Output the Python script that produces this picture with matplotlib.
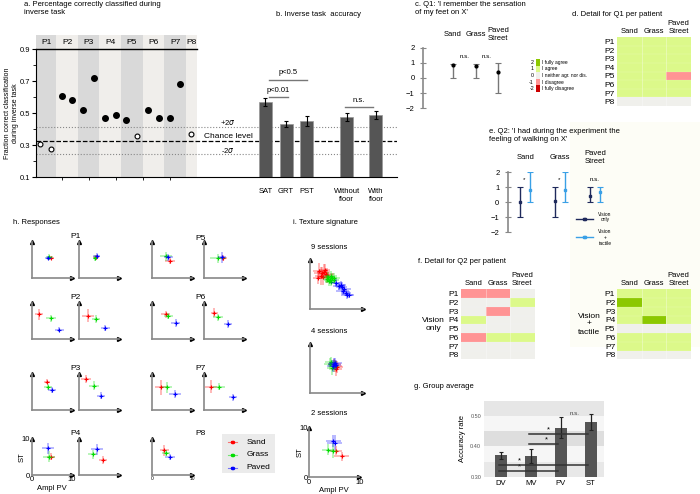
import numpy as np
import matplotlib
matplotlib.use('Agg')
import matplotlib.pyplot as plt
from matplotlib.colors import ListedColormap, BoundaryNorm
from matplotlib.patches import Rectangle
from matplotlib.lines import Line2D

plt.rcParams['font.family'] = ['Liberation Sans', 'DejaVu Sans']

# ---------------- data ----------------
# a. fraction correct per run (two runs per patient, P8 only one)
patients = ['P1', 'P2', 'P3', 'P4', 'P5', 'P6', 'P7', 'P8']
runs_per_patient = [2, 2, 2, 2, 2, 2, 2, 1]
inverse_scores = [0.31, 0.275, 0.61, 0.58, 0.52, 0.72, 0.47, 0.49,
                  0.46, 0.36, 0.52, 0.47, 0.47, 0.68, 0.37]
above_chance = [False, False, True, True, True, True, True, True,
                True, False, True, True, True, True, False]
chance_level = 0.33
upper_2sigma = 0.413
lower_2sigma = 0.244

# b. inverse task accuracy
accuracy_labels = ['SAT', 'GRT', 'PST', 'Without\nfloor', 'With\nfloor']
accuracy_values = [0.57, 0.433, 0.452, 0.477, 0.49]
accuracy_errors = [0.025, 0.02, 0.033, 0.026, 0.024]

# c. / e. questionnaires
surfaces = ['Sand', 'Grass', 'Paved\nStreet']
q1_mean = [0.85, 0.8, 0.4]
q1_low = [0, 0, -1]
q1_high = [0.95, 0.95, 1]
q2_vision_mean = [0.0, 0.1, 0.4]
q2_vision_low = [-1, -1, 0]
q2_vision_high = [1, 1, 1]
q2_tactile_mean = [0.85, 0.85, 0.7]
q2_tactile_low = [0, 0, 0]
q2_tactile_high = [2, 2, 1]
q2_signif = ['*', '*', 'n.s.']

# d. / f. ratings per patient (rows P1..P8, cols Sand, Grass, Paved)
q1_ratings = np.array([[1, 1, 1], [1, 1, 1], [1, 1, 1], [1, 1, 1],
                       [1, 1, -1], [1, 1, 1], [1, 1, 1], [0, 0, 0]])
q2_vision_ratings = np.array([[-1, -1, 0], [0, 0, 1], [0, -1, 0], [1, 0, 0],
                              [0, 0, 0], [-1, 1, 1], [0, 0, 0], [0, 0, 0]])
q2_tactile_ratings = np.array([[1, 1, 1], [2, 1, 1], [1, 1, 1], [1, 2, 1],
                               [0, 0, 0], [1, 1, 1], [1, 1, 1], [0, 0, 0]])
rating_levels = [2, 1, 0, -1, -2]
rating_labels = ['I fully agree', 'I agree', 'I neither agr. nor dis.',
                 'I disagree', 'I fully disagree']

# g. group average
group_labels = ['DV', 'MV', 'PV', 'ST']
group_acc = [0.371, 0.369, 0.462, 0.48]
group_err = [0.012, 0.022, 0.035, 0.027]
group_pairs = [(0, 2), (0, 3), (1, 2), (1, 3)]
group_pair_levels = [0.32, 0.34, 0.408, 0.44]

# h. responses: x, y, xerr, yerr  (P1a,P1b,P2a,P2b,P3a,P3b,P4a,P4b,P5a,P5b,P6a,P6b,P7a,P7b,P8)
resp_panels = ['P1', 'P1', 'P2', 'P2', 'P3', 'P3', 'P4', 'P4',
               'P5', 'P5', 'P6', 'P6', 'P7', 'P7', 'P8']
sand_resp = np.array([
    [4.75, 5.5, 0.8, 0.5], [4.2, 5.7, 0.6, 0.6], [1.9, 6.8, 1.0, 1.5], [2.3, 6.4, 1.5, 1.8],
    [3.75, 7.8, 0.8, 0.8], [1.75, 8.5, 1.2, 1.2], [4.85, 5.0, 1.0, 1.0], [5.9, 4.1, 1.0, 1.2],
    [4.4, 4.8, 1.2, 0.8], [4.7, 5.5, 1.0, 0.8], [3.3, 6.8, 1.2, 1.0], [2.6, 7.2, 0.8, 1.2],
    [2.2, 6.2, 1.5, 2.0], [1.75, 6.4, 1.5, 1.8], [3.0, 6.8, 1.2, 1.5]])
grass_resp = np.array([
    [4.4, 5.9, 0.8, 0.8], [4.1, 5.5, 0.6, 0.8], [4.8, 5.7, 1.2, 1.0], [4.25, 5.5, 1.0, 1.2],
    [4.0, 6.4, 1.0, 0.8], [3.75, 6.7, 1.2, 1.2], [4.2, 5.0, 1.5, 1.5], [3.4, 5.7, 1.2, 1.2],
    [3.35, 6.0, 1.5, 1.2], [3.6, 5.5, 2.0, 1.2], [4.0, 6.2, 1.2, 0.8], [3.5, 5.9, 1.2, 1.0],
    [3.6, 6.2, 1.2, 1.5], [3.75, 6.4, 1.5, 1.0], [3.4, 6.0, 1.0, 0.8]])
paved_resp = np.array([
    [4.15, 5.5, 0.8, 0.6], [4.4, 6.1, 0.8, 0.8], [6.9, 2.6, 1.2, 0.6], [6.6, 2.9, 1.2, 0.8],
    [5.0, 5.5, 1.0, 0.8], [5.6, 3.9, 1.0, 1.0], [4.0, 7.3, 1.5, 1.5], [4.6, 7.1, 1.5, 1.5],
    [4.0, 5.7, 1.2, 1.0], [4.4, 5.8, 1.0, 1.5], [5.8, 4.4, 1.2, 1.0], [5.9, 4.1, 1.0, 1.0],
    [5.7, 4.4, 1.5, 1.2], [7.3, 3.5, 1.0, 1.0], [4.4, 5.0, 1.2, 0.8]])

# i. texture signature per session: x, y, xerr, yerr
sand_9 = np.array([[1.8, 7.8, 1.2, 1.5], [2.2, 7.3, 1.5, 1.2], [2.5, 6.5, 1.2, 1.5],
                   [2.0, 6.8, 1.0, 1.8], [3.0, 7.2, 1.5, 1.0], [2.6, 7.6, 1.2, 1.5],
                   [1.6, 6.4, 1.0, 1.2], [3.2, 6.9, 1.2, 1.5], [2.8, 7.9, 1.0, 1.2]])
grass_9 = np.array([[3.5, 6.6, 1.0, 1.0], [3.8, 6.0, 1.2, 0.8], [4.2, 6.3, 1.0, 1.0],
                    [3.6, 5.8, 0.8, 1.0], [4.5, 5.9, 1.0, 0.8], [4.0, 6.8, 1.2, 1.0],
                    [3.3, 6.1, 0.8, 0.8], [4.6, 6.4, 1.0, 1.0], [3.9, 5.5, 1.0, 0.8]])
paved_9 = np.array([[5.0, 5.4, 1.0, 0.8], [5.5, 4.8, 1.2, 0.8], [6.0, 4.5, 1.0, 1.0],
                    [6.2, 3.8, 1.2, 0.8], [6.8, 3.4, 1.0, 0.8], [7.0, 2.9, 1.2, 0.8],
                    [5.8, 5.0, 1.0, 0.8], [6.5, 4.2, 1.2, 1.0], [7.4, 3.0, 1.0, 0.8]])
sand_4 = np.array([[4.8, 5.6, 1.2, 1.2], [5.0, 5.0, 1.0, 1.5], [4.6, 6.0, 1.2, 1.0], [5.2, 5.4, 1.0, 1.2]])
grass_4 = np.array([[3.8, 5.9, 1.2, 1.2], [4.2, 5.2, 1.0, 1.5], [4.0, 6.4, 1.2, 1.0], [4.5, 5.6, 1.0, 1.2]])
paved_4 = np.array([[4.5, 5.9, 1.0, 1.2], [4.8, 6.2, 1.2, 1.0], [4.3, 5.5, 1.0, 1.2], [4.9, 5.8, 1.0, 1.0]])
sand_2 = np.array([[5.3, 5.4, 1.2, 1.0], [6.5, 4.2, 1.5, 1.0]])
grass_2 = np.array([[3.8, 5.6, 1.2, 1.2], [4.7, 5.4, 1.0, 1.5]])
paved_2 = np.array([[4.8, 7.4, 1.5, 1.2], [5.1, 7.0, 1.5, 1.5]])

# ---------------- style ----------------
W, H = 700, 494
rating_cmap = ListedColormap(['#cc0000', '#ff9494', '#f0f0ec', '#dcf98a', '#8cc800'])
rating_norm = BoundaryNorm([-2.5, -1.5, -0.5, 0.5, 1.5, 2.5], 5)
tex_colors = ['#ff0000', '#00dd00', '#0000ff']
fs = 5.5

fig = plt.figure(figsize=(7, 4.94), dpi=100)


def add_ax(x0, y0, x1, y1):
    return fig.add_axes([x0 / W, 1 - y1 / H, (x1 - x0) / W, (y1 - y0) / H])


def ftext(x, y, s, **kw):
    kw.setdefault('fontsize', fs)
    fig.text(x / W, 1 - y / H, s, **kw)


def fline(x0, x1, y, **kw):
    fig.add_artist(Line2D([x0 / W, x1 / W], [1 - y / H, 1 - y / H],
                          transform=fig.transFigure, **kw))


# faint cream background at the right
fig.patches.append(Rectangle((570 / W, 1 - 347 / H), 130 / W, 225 / H,
                             transform=fig.transFigure, facecolor='#fdfdf6',
                             edgecolor='none', zorder=-5))

# ---------------- a + b ----------------
ax = add_ax(36, 49.3, 397, 177.3)
xmin, xmax = -0.37, 33.05
ax.set_xlim(xmin, xmax)
ax.set_ylim(0.1, 0.9)
run_x = np.arange(len(inverse_scores))
start = 0
for k, (p, n) in enumerate(zip(patients, runs_per_patient)):
    left = max(start - 0.5, xmin)
    right = start + n - 0.5
    col = '#d9d9d9' if k % 2 == 0 else '#f0eeeb'
    ax.axvspan(left, right, color=col, zorder=0, lw=0)
    ax.add_patch(Rectangle((left, 0.9), right - left, 0.0875, facecolor=col,
                           edgecolor='none', clip_on=False))
    ax.text((left + right) / 2, 0.944, p, ha='center', va='center', fontsize=fs + 0.5)
    start += n
ax.plot([xmin, start - 0.5], [0.9, 0.9], color='black', lw=1, clip_on=False)

scores = np.array(inverse_scores)
filled = np.array(above_chance)
ax.plot(run_x[filled], scores[filled], 'o', color='black', ms=4, zorder=3)
ax.plot(run_x[~filled], scores[~filled], 'o', mfc='white', mec='black', ms=3.5, mew=0.8, zorder=3)

ax.axhline(chance_level, color='black', ls='--', lw=0.9)
ax.axhline(upper_2sigma, color='#888888', ls=':', lw=0.8)
ax.axhline(lower_2sigma, color='#888888', ls=':', lw=0.8)
ax.text(17.4, 0.44, '+2$\\sigma$', ha='center', va='center', fontsize=fs)
ax.text(17.4, 0.358, 'Chance level', ha='center', va='center', fontsize=fs + 0.5)
ax.text(17.4, 0.27, '-2$\\sigma$', ha='center', va='center', fontsize=fs)

bar_x = [20.86, 22.78, 24.7, 28.4, 31.1]
ax.bar(bar_x, accuracy_values, width=1.2, color='#555555', edgecolor='#999999',
       lw=0.5, zorder=2)
ax.errorbar(bar_x, accuracy_values, yerr=accuracy_errors, fmt='none', ecolor='black',
            elinewidth=0.8, capsize=1.5, capthick=0.8, zorder=4)
sig_col = '#777777'
ax.plot([bar_x[0] + 0.35, bar_x[2]], [0.706, 0.706], color=sig_col, lw=1)
ax.text((bar_x[0] + bar_x[2]) / 2 + 0.2, 0.755, 'p<0.5', ha='center', va='center', fontsize=fs)
ax.plot([bar_x[0] + 0.35, bar_x[1] + 0.2], [0.604, 0.604], color=sig_col, lw=1)
ax.text((bar_x[0] + bar_x[1]) / 2 + 0.25, 0.645, 'p<0.01', ha='center', va='center', fontsize=fs)
ax.plot([bar_x[3] - 0.15, bar_x[4] - 0.25], [0.537, 0.537], color=sig_col, lw=1)
ax.text((bar_x[3] + bar_x[4]) / 2 - 0.2, 0.577, 'n.s.', ha='center', va='center', fontsize=fs)

ax.set_xticks(bar_x)
ax.set_xticklabels(accuracy_labels, fontsize=fs)
ax.set_xticks([2, 4.5, 7, 9.5, 12], minor=True)
ax.tick_params(axis='x', which='major', length=0, pad=8)
ax.tick_params(axis='x', which='minor', length=2.5)
ax.set_yticks([0.1, 0.3, 0.5, 0.7, 0.9])
ax.set_yticks([0.2, 0.4, 0.6, 0.8], minor=True)
ax.tick_params(axis='y', labelsize=fs, length=3, pad=1)
ax.tick_params(axis='y', which='minor', length=2)
for s in ['top', 'right']:
    ax.spines[s].set_visible(False)
ax.spines['left'].set_linewidth(0.8)
ax.set_ylabel('Fraction correct classification\nduring inverse task', fontsize=5, labelpad=1)

ftext(24, 1, 'a. Percentage correctly classified during\ninverse task', va='top')
ftext(319, 14, 'b. Inverse task  accuracy', ha='center', va='center')

# ---------------- c ----------------
axc = add_ax(423, 47.7, 512, 108.3)
pos = np.arange(1, 4)
axc.set_xlim(-0.32, 3.6)
axc.set_ylim(-2, 2)
m = np.array(q1_mean)
axc.errorbar(pos, m, yerr=[m - np.array(q1_low), np.array(q1_high) - m], fmt='o',
             color='#777777', mfc='black', mec='black', ms=2, elinewidth=1,
             capsize=2, capthick=0.8)
for x, s in zip(pos, surfaces):
    axc.text(x, 2.85, s, ha='center', va='center', fontsize=fs)
for x in [1.5, 2.5]:
    axc.text(x, 1.4, 'n.s.', ha='center', va='center', fontsize=fs - 1)
for s in ['top', 'right', 'bottom']:
    axc.spines[s].set_visible(False)
axc.spines['left'].set_color('#888888')
axc.spines['left'].set_linewidth(1.2)
axc.set_xticks([])
axc.set_yticks([-2, -1, 0, 1, 2])
axc.tick_params(axis='y', direction='inout', length=5, color='#888888', labelsize=fs)
axc.patch.set_alpha(0)
ftext(415, 1, "c. Q1: 'I remember the sensation\nof my feet on X'", va='top')

# rating legend
axl = add_ax(536, 59, 540, 92)
axl.imshow(np.array(rating_levels)[:, None], cmap=rating_cmap, norm=rating_norm, aspect='auto')
axl.set_xticks([])
axl.set_yticks([])
for s in axl.spines.values():
    s.set_visible(False)
for i, (lev, lab) in enumerate(zip(rating_levels, rating_labels)):
    yy = 62.3 + i * 6.6
    ftext(534, yy, str(lev), ha='right', va='center', fontsize=3.8)
    ftext(541.5, yy, lab, ha='left', va='center', fontsize=3.5)


def heatmap(axh, ratings):
    nr, nc = ratings.shape
    axh.pcolormesh(ratings, cmap=rating_cmap, norm=rating_norm)
    for c in range(1, nc):
        axh.axvline(c, color='white', lw=0.4, alpha=0.6)
    for r in range(1, nr):
        axh.axhline(r, color='white', lw=0.3, alpha=0.3)
    axh.set_xlim(0, nc)
    axh.set_ylim(nr, 0)
    axh.xaxis.tick_top()
    axh.set_xticks(np.arange(nc) + 0.5)
    axh.set_xticklabels(surfaces, fontsize=fs)
    axh.set_yticks(np.arange(nr) + 0.5)
    axh.set_yticklabels(patients, fontsize=fs + 0.5)
    axh.tick_params(length=0, pad=1.5)
    for s in axh.spines.values():
        s.set_visible(False)


# ---------------- d ----------------
axd = add_ax(617, 37.3, 691, 106)
heatmap(axd, q1_ratings)
ftext(617, 14, 'd. Detail for Q1 per patient', ha='center', va='center')

# ---------------- e ----------------
axe = add_ax(507.7, 172.3, 612, 232.3)
axe.set_xlim(0.5, 3.48)
axe.set_ylim(-2, 2)
vm = np.array(q2_vision_mean)
tm = np.array(q2_tactile_mean)
axe.errorbar(pos - 0.16, vm, yerr=[vm - np.array(q2_vision_low), np.array(q2_vision_high) - vm],
             fmt='s', color='#1f2a5c', ms=1.8, elinewidth=1, capsize=2, capthick=0.8)
axe.errorbar(pos + 0.14, tm, yerr=[tm - np.array(q2_tactile_low), np.array(q2_tactile_high) - tm],
             fmt='s', color='#3aa0e6', ms=1.8, elinewidth=1, capsize=2, capthick=0.8)
for x, s, sg in zip(pos, surfaces, q2_signif):
    axe.text(x, 3.0, s, ha='center', va='center', fontsize=fs)
    axe.text(x - 0.02, 1.55, sg, ha='center', va='center', fontsize=fs - 1)
for s in ['top', 'right', 'bottom']:
    axe.spines[s].set_visible(False)
axe.spines['left'].set_color('#888888')
axe.spines['left'].set_linewidth(1.2)
axe.set_xticks([])
axe.set_yticks([-2, -1, 0, 1, 2])
axe.tick_params(axis='y', direction='inout', length=5, color='#888888', labelsize=fs)
axe.patch.set_alpha(0)
ftext(489, 128, "e. Q2: 'I had during the experiment the\nfeeling of walking on X'", va='top')

fline(576, 593, 218.7, color='#1f2a5c', lw=1)
fline(584, 585, 218.7, color='#1f2a5c', marker='s', ms=1.8)
ftext(605, 217, 'Vision\nonly', ha='center', va='center', fontsize=3.5)
fline(576, 593, 237, color='#3aa0e6', lw=1)
fline(584, 585, 237, color='#3aa0e6', marker='s', ms=1.8)
ftext(605, 237.5, 'Vision\n+\ntactile', ha='center', va='center', fontsize=3.5)

# ---------------- f ----------------
axf1 = add_ax(461, 289.3, 534.7, 359.3)
heatmap(axf1, q2_vision_ratings)
axf2 = add_ax(617.3, 289.3, 691, 359.3)
heatmap(axf2, q2_tactile_ratings)
ftext(433, 324, 'Vision\nonly', ha='center', va='center', fontsize=fs + 0.5)
ftext(589, 324, 'Vision\n+\ntactile', ha='center', va='center', fontsize=fs + 0.5)
ftext(417.7, 261.7, 'f. Detail for Q2 per patient', va='center')

# ---------------- g ----------------
axg = add_ax(484, 400.7, 604, 477)
gx = np.arange(len(group_labels))
axg.set_xlim(-0.56, 3.44)
axg.set_ylim(0.30, 0.55)
band_cols = ['#e8e8e8', '#f6f6f6', '#dedede', '#f6f6f6', '#e6e6e6']
for i, c in enumerate(band_cols):
    axg.axhspan(0.30 + i * 0.05, 0.35 + i * 0.05, color=c, lw=0, zorder=0)
axg.bar(gx, group_acc, width=0.4, color='#555555', zorder=2)
axg.errorbar(gx, group_acc, yerr=group_err, fmt='none', ecolor='#222222',
             elinewidth=0.9, capsize=1.2, capthick=0.8, zorder=3)
star_x = [0.62, 0.62, 1.52, 1.6]
for (a, b), lev, sx in zip(group_pairs, group_pair_levels, star_x):
    axg.plot([a - 0.07, b - 0.1], [lev, lev], color='#333333', lw=1.1, zorder=4)
    axg.text(sx, lev + 0.002, '*', ha='center', va='bottom', fontsize=fs, zorder=4)
axg.text(2.45, 0.508, 'n.s.', ha='center', va='center', fontsize=4.5, color='#444444')
axg.set_xticks(gx)
axg.set_xticklabels(group_labels, fontsize=fs)
axg.set_yticks([0.30, 0.40, 0.50])
axg.set_yticklabels(['0.30', '0.40', '0.50'], fontsize=4, color='#555555')
axg.tick_params(length=0, pad=2)
for s in axg.spines.values():
    s.set_visible(False)
axg.set_ylabel('Accuracy rate', fontsize=fs, labelpad=3)
ftext(414.3, 386.7, 'g. Group average', va='center')


# ---------------- h ----------------
def arrow_axes(a):
    a.set_xlim(0, 10)
    a.set_ylim(0, 10)
    for s in ['top', 'right']:
        a.spines[s].set_visible(False)
    for s in ['left', 'bottom']:
        a.spines[s].set_color('#888888')
        a.spines[s].set_linewidth(1.2)
    a.plot([0], [1], marker='^', color='black', ms=2.8, transform=a.transAxes, clip_on=False)
    a.plot([1], [0], marker='>', color='black', ms=2.8, transform=a.transAxes, clip_on=False)
    a.set_xticks([])
    a.set_yticks([])
    a.patch.set_alpha(0)


def draw_crosses(a, sets):
    for pts, c in zip(sets, tex_colors):
        pts = np.atleast_2d(pts)
        a.errorbar(pts[:, 0], pts[:, 1], xerr=pts[:, 2], yerr=pts[:, 3], fmt='none',
                   ecolor=c, elinewidth=1.3, alpha=0.3)
        a.plot(pts[:, 0], pts[:, 1], '+', color=c, ms=3.5, mew=0.8)


h_cols = [31.7, 79, 152.3, 204]
h_rows = [278.3, 339, 410, 475]
bw, bh = 40, 36.5
for i, p in enumerate(resp_panels):
    block = 0 if i < 8 else 1
    j = i if i < 8 else i - 8
    row = j // 2
    col = block * 2 + j % 2
    x0 = h_cols[col]
    y1 = h_rows[row]
    a = add_ax(x0, y1 - bh, x0 + bw, y1)
    arrow_axes(a)
    draw_crosses(a, [sand_resp[i], grass_resp[i], paved_resp[i]])
    if j % 2 == 0:
        ftext(x0 + bw + (3 if block else -1), y1 - bh - 5 + (2 if block and row == 0 else 0),
              p, ha='left', va='center', fontsize=fs + 0.5)
    if i == 6:
        a.set_xticks([0, 10])
        a.set_yticks([0, 10])
        a.tick_params(length=0, labelsize=fs, pad=1)
        a.set_xlabel('Ampl PV', fontsize=fs, labelpad=1)
        a.set_ylabel('ST', fontsize=fs, labelpad=-3)
    if i == 14:
        a.set_xticks([0, 10])
        a.tick_params(length=0, labelsize=3.5, pad=1)

# legend box
fig.patches.append(Rectangle((221.7 / W, 1 - 473.3 / H), 53.3 / W, 39 / H,
                             transform=fig.transFigure, facecolor='#ebebeb',
                             edgecolor='none', zorder=-1))
for lab, c, yy in zip(['Sand', 'Grass', 'Paved'], tex_colors, [442.3, 454.7, 467.7]):
    fline(227.7, 237.3, yy, color=c, lw=0.8, alpha=0.5)
    fline(232, 232.5, yy, color=c, marker='.', ms=3)
    ftext(246.7, yy, lab, va='center', fontsize=fs + 0.5)
ftext(12.7, 222.7, 'h. Responses', va='center')

# ---------------- i ----------------
i_boxes = [(310, 260, 362.7, 309.3), (310, 344, 362.7, 393.3), (309.3, 427.7, 359.3, 477.3)]
i_sets = [[sand_9, grass_9, paved_9], [sand_4, grass_4, paved_4], [sand_2, grass_2, paved_2]]
i_titles = ['9 sessions', '4 sessions', '2 sessions']
i_title_y = [247.7, 331, 413.3]
for k, (box, sets, t, ty) in enumerate(zip(i_boxes, i_sets, i_titles, i_title_y)):
    a = add_ax(*box)
    arrow_axes(a)
    draw_crosses(a, sets)
    ftext(329, ty, t, ha='center', va='center')
    if k == 2:
        a.set_xticks([0, 10])
        a.set_yticks([0, 10])
        a.tick_params(length=0, labelsize=fs, pad=1)
        a.set_xlabel('Ampl PV', fontsize=fs, labelpad=1)
        a.set_ylabel('ST', fontsize=fs, labelpad=-3)
ftext(293, 222.7, 'i. Texture signature', va='center')

fig.savefig('out.png', dpi=100)
